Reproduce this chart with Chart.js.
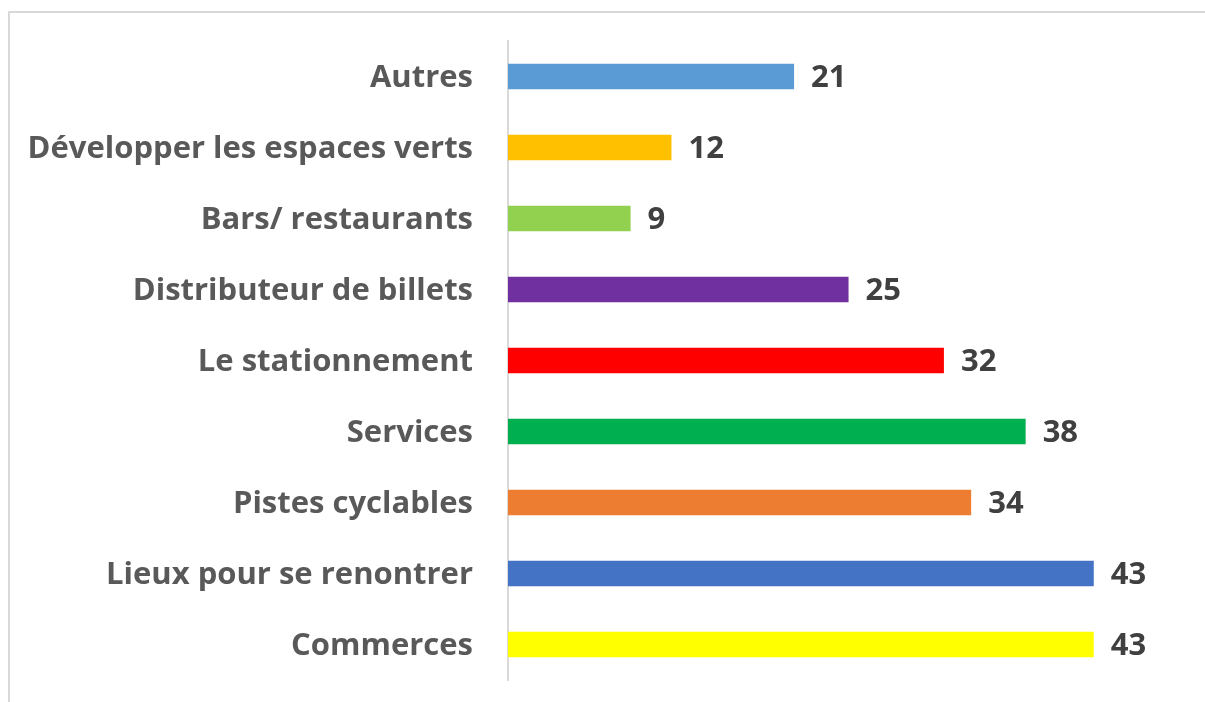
<!DOCTYPE html>
<html>
<head>
<meta charset="utf-8">
<script src="https://cdn.jsdelivr.net/npm/chart.js@4/dist/chart.umd.min.js"></script>
<style>
  html, body { margin: 0; padding: 0; background: #ffffff; overflow: hidden; }
  #wrap { position: relative; width: 1205px; height: 702px; }
  #frame { position: absolute; left: 8px; top: 11px; width: 1400px; height: 900px;
           border: 2px solid #d9d9d9; box-sizing: border-box; }
  canvas { position: absolute; left: 0; top: 0; }
</style>
</head>
<body>
<div id="wrap">
  <div id="frame"></div>
  <canvas id="chart" width="1205" height="702"></canvas>
</div>
<script>
// Categories, top to bottom
const categories = [
  "Autres",
  "Développer les espaces verts",
  "Bars/ restaurants",
  "Distributeur de billets",
  "Le stationnement",
  "Services",
  "Pistes cyclables",
  "Lieux pour se renontrer",
  "Commerces"
];
const values = [21, 12, 9, 25, 32, 38, 34, 43, 43];
const barColors = [
  "#5B9BD5", "#FFC000", "#92D050", "#7030A0", "#FF0000",
  "#00B050", "#ED7D31", "#4472C4", "#FFFF00"
];

const FONT = "'Open Sans', 'DejaVu Sans', sans-serif";

// Value labels drawn just past the end of each bar
const valueLabels = {
  id: "valueLabels",
  afterDatasetsDraw(chart) {
    const ctx = chart.ctx;
    const meta = chart.getDatasetMeta(0);
    ctx.save();
    ctx.font = "700 31px " + FONT;
    ctx.fillStyle = "#404040";
    ctx.textAlign = "left";
    ctx.textBaseline = "middle";
    meta.data.forEach((bar, i) => {
      ctx.fillText(String(values[i]), bar.x + 17, bar.y + 2);
    });
    ctx.restore();
  }
};

new Chart(document.getElementById("chart"), {
  type: "bar",
  data: {
    labels: categories,
    datasets: [{
      data: values,
      backgroundColor: barColors,
      borderWidth: 0,
      barPercentage: 0.36,
      categoryPercentage: 1
    }]
  },
  options: {
    indexAxis: "y",
    responsive: false,
    animation: false,
    layout: { padding: { left: 0, right: 84, top: 41, bottom: 22 } },
    plugins: { legend: { display: false }, tooltip: { enabled: false } },
    scales: {
      x: {
        display: false,
        min: 0,
        max: 45
      },
      y: {
        afterFit(scale) {
          scale.width = 508;
          scale.paddingTop = 0;
          scale.paddingBottom = 0;
        },
        grid: { display: false, drawTicks: false },
        border: { display: true, color: "#d9d9d9", width: 2 },
        ticks: {
          padding: 35,
          labelOffset: 2,
          color: "#595959",
          font: { family: FONT, size: 31, weight: "700" }
        }
      }
    }
  },
  plugins: [valueLabels]
});
</script>
</body>
</html>
